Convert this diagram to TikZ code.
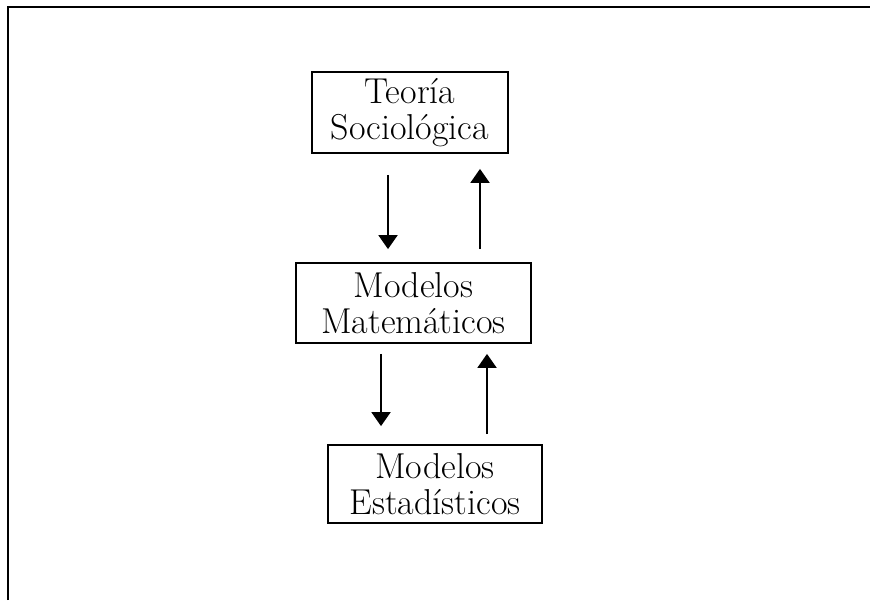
\documentclass[tikz,border=0pt]{standalone}
\usetikzlibrary{arrows.meta,calc}
\begin{document}
\begin{tikzpicture}[x=1pt,y=-1pt,
    caja/.style={draw,line width=1.8pt,align=center,inner sep=0pt,
      font=\fontsize{36}{36}\selectfont},
    flecha/.style={line width=2pt,-{Triangle[width=19pt,length=14pt]}}]
  \useasboundingbox (0,0) rectangle (870,600);
  % marco
  \draw[line width=2.5pt] (8,600) -- (8,7) -- (871,7);
  % cajas
  \node[caja,minimum width=196pt,minimum height=81pt] (teoria) at (410,112.5) {Teoría\\Sociológica};
  \node[caja,minimum width=235pt,minimum height=80pt] (modmat) at (413.5,303) {Modelos\\Matemáticos};
  \node[caja,minimum width=214pt,minimum height=78pt] (modest) at (435,484) {Modelos\\Estadísticos};
  % flechas
  \coordinate (b1) at (388,0);
  \coordinate (s1) at (480,0);
  \coordinate (b2) at (381,0);
  \coordinate (s2) at (487,0);
  \draw[flecha,shorten <=21pt,shorten >=13pt] (teoria.south -| b1) -- (modmat.north -| b1);
  \draw[flecha,shorten <=13pt,shorten >=15pt] (modmat.north -| s1) -- (teoria.south -| s1);
  \draw[flecha,shorten <=10pt,shorten >=18pt] (modmat.south -| b2) -- (modest.north -| b2);
  \draw[flecha,shorten <=10pt,shorten >=10pt] (modest.north -| s2) -- (modmat.south -| s2);
\end{tikzpicture}
\end{document}
